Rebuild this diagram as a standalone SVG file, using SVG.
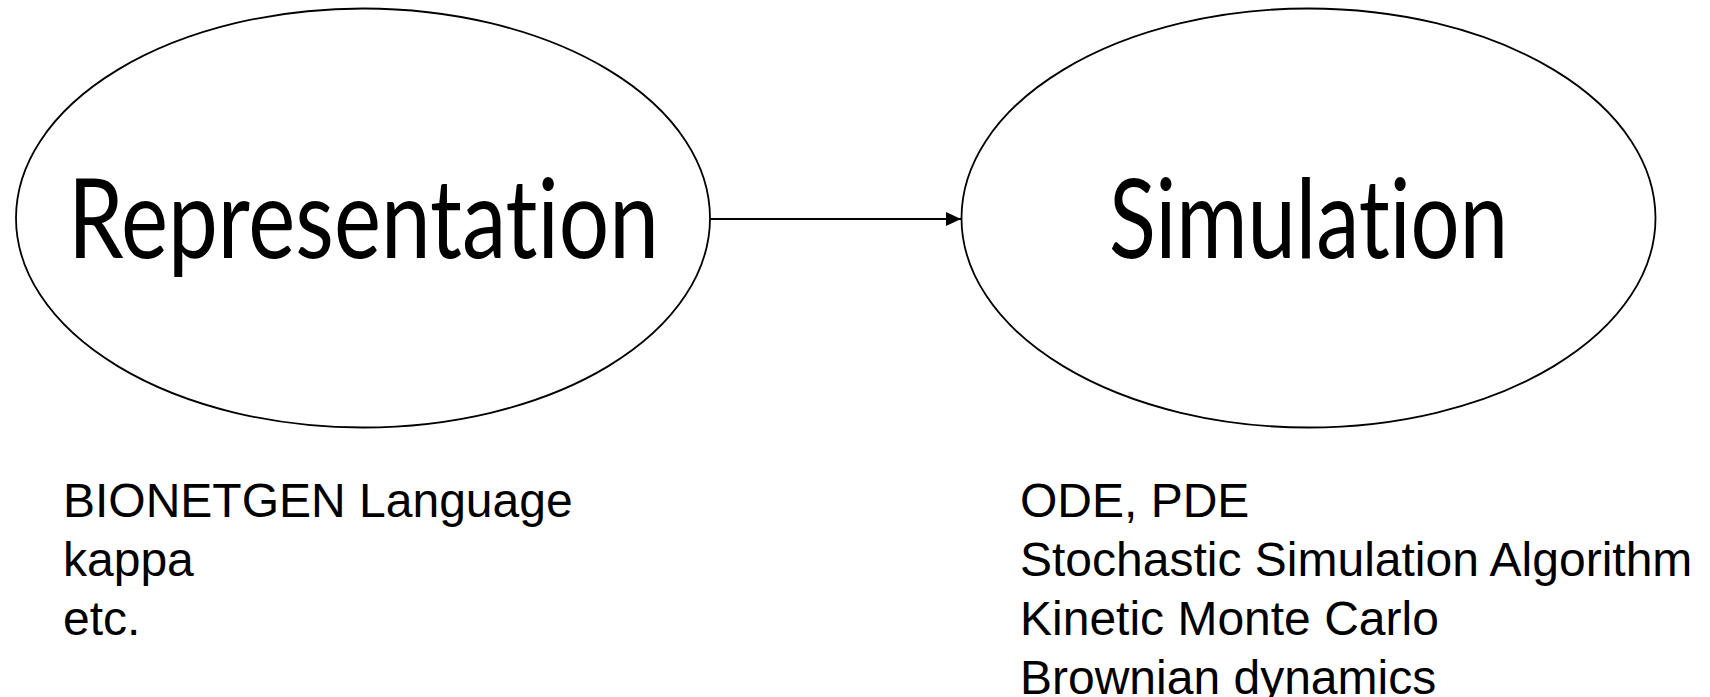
<svg xmlns="http://www.w3.org/2000/svg" width="1710" height="697" viewBox="0 0 1710 697">
<style>
.node{fill:#fff;stroke:#000;stroke-width:1.8}
.title{font-family:Lato,"Noto Sans",sans-serif;font-size:111px;fill:#000;text-anchor:middle;font-variant-ligatures:none;font-feature-settings:"liga" 0,"clig" 0,"dlig" 0}
.list{font-family:"Liberation Sans",Arial,sans-serif;font-size:48px;fill:#000}
.edge{stroke:#000;stroke-width:2;fill:none}
</style>
<defs>
<marker id="arrow" markerWidth="16" markerHeight="14" refX="15" refY="7" orient="auto" markerUnits="userSpaceOnUse">
<path d="M0,0 L15,7 L0,14 Z" fill="#000"/>
</marker>
</defs>
<rect width="1710" height="697" fill="#fff"/>
<g id="connectors">
<line class="edge" x1="710" y1="219" x2="961" y2="219" marker-end="url(#arrow)"/>
</g>
<g id="representation">
<ellipse class="node" cx="363" cy="218" rx="347" ry="209.5"/>
<text class="title" x="363.5" y="257.5" textLength="591" lengthAdjust="spacingAndGlyphs">Representation</text>
</g>
<g id="simulation">
<ellipse class="node" cx="1308.5" cy="218" rx="347" ry="209.5"/>
<text class="title" x="1308.5" y="257.5" textLength="399" lengthAdjust="spacingAndGlyphs">Simulation</text>
</g>
<g id="representation-list">
<text class="list" x="63" y="517">BIONETGEN Language</text>
<text class="list" x="63" y="576">kappa</text>
<text class="list" x="63" y="635">etc.</text>
</g>
<g id="simulation-list">
<text class="list" x="1020" y="517">ODE, PDE</text>
<text class="list" x="1020" y="576">Stochastic Simulation Algorithm</text>
<text class="list" x="1020" y="635">Kinetic Monte Carlo</text>
<text class="list" x="1020" y="694">Brownian dynamics</text>
</g>
</svg>
